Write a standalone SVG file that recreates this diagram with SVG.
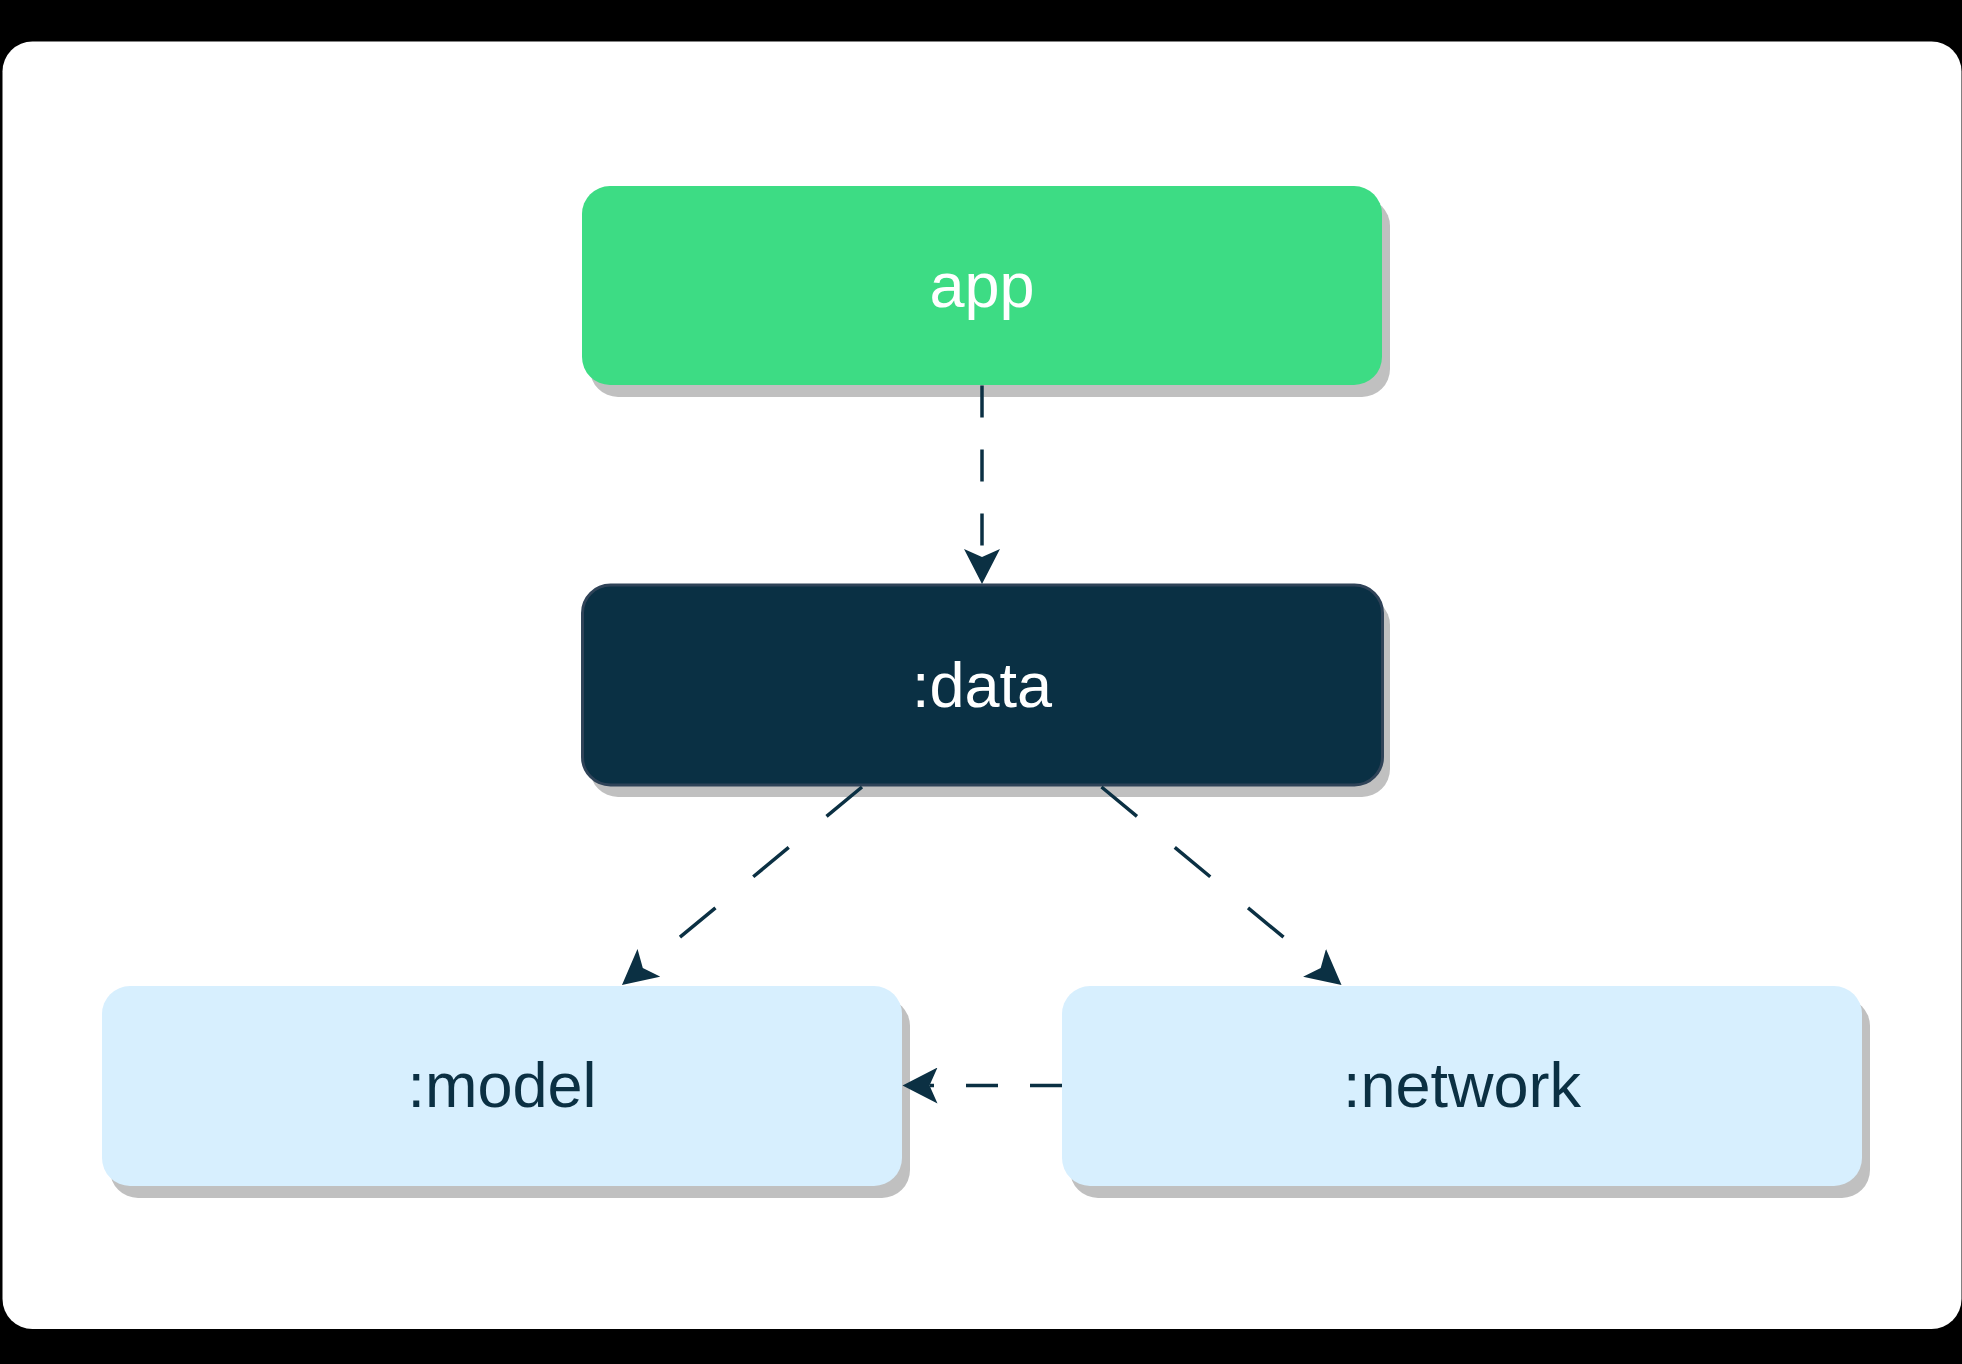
<svg xmlns="http://www.w3.org/2000/svg" width="1962" height="1364" viewBox="0 0 1962 1364">
  <style>
    .shadow { fill: #c0c0c0; }
    .lbl { font-family: "Liberation Sans", Arial, Helvetica, sans-serif; font-size: 63px; text-anchor: middle; }
    .edge { fill: none; stroke: #0b3043; stroke-width: 3.5; }
  </style>
  <defs>
    <marker id="arrow" viewBox="0 0 36 36" refX="8" refY="18" markerWidth="36" markerHeight="36" markerUnits="userSpaceOnUse" orient="auto">
      <path d="M0,0 L35,18 L0,36 L8,18 Z" fill="#0b3043"/>
    </marker>
  </defs>
  <rect x="0" y="0" width="1962" height="1364" fill="#000000"/>
  <rect x="2.5" y="41.5" width="1959" height="1287.5" rx="30" ry="30" fill="#ffffff"/>

  <g id="node-app">
    <rect class="shadow" x="590" y="198" width="800" height="199" rx="28" ry="28"/>
    <rect x="582" y="186" width="800" height="199" rx="28" ry="28" fill="#3ddc84"/>
    <text class="lbl" x="982" y="307" fill="#ffffff">app</text>
  </g>

  <g id="node-data">
    <rect class="shadow" x="590" y="597" width="800" height="200" rx="28" ry="28"/>
    <rect x="582.5" y="585" width="800" height="200" rx="28" ry="28" fill="#0a3044" stroke="#2f4358" stroke-width="3"/>
    <text class="lbl" x="982" y="707" fill="#ffffff">:data</text>
  </g>

  <g id="node-model">
    <rect class="shadow" x="110" y="998" width="800" height="200" rx="28" ry="28"/>
    <rect x="102" y="986" width="800" height="200" rx="28" ry="28" fill="#d7effe"/>
    <text class="lbl" x="502" y="1107" fill="#0b3043">:model</text>
  </g>

  <g id="node-network">
    <rect class="shadow" x="1070" y="998" width="800" height="200" rx="28" ry="28"/>
    <rect x="1062" y="986" width="800" height="200" rx="28" ry="28" fill="#d7effe"/>
    <text class="lbl" x="1462" y="1107" fill="#0b3043">:network</text>
  </g>

  <g id="connectors">
    <path class="edge" d="M982,385.5 L982,557" stroke-dasharray="32 32" marker-end="url(#arrow)"/>
    <path class="edge" d="M862,787 L642.8,967.9" stroke-dasharray="46 49" marker-end="url(#arrow)"/>
    <path class="edge" d="M1101.5,787 L1320.7,967.9" stroke-dasharray="46 49" marker-end="url(#arrow)"/>
    <path class="edge" d="M1062,1085.5 L929.5,1085.5" stroke-dasharray="32 32" marker-end="url(#arrow)"/>
  </g>
</svg>
